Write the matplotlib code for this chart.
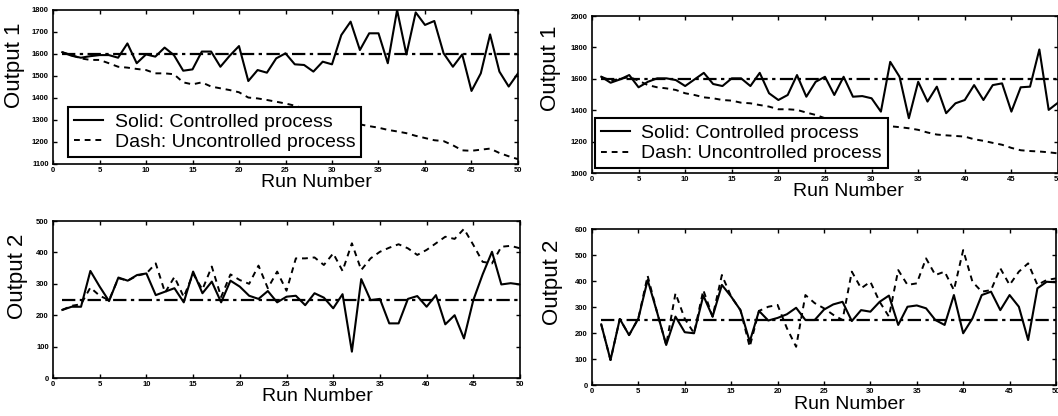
import matplotlib.pyplot as plt

plt.rcParams['font.family'] = ['Liberation Sans', 'DejaVu Sans']

# Data
runs = list(range(1, 51))

# left column, output 1
out1_ctrl_a = [1608, 1592, 1583, 1590, 1595, 1595, 1583, 1648, 1558, 1598,
               1588, 1629, 1595, 1524, 1530, 1611, 1611, 1542, 1592, 1636,
               1477, 1527, 1515, 1580, 1603, 1553, 1550, 1520, 1565, 1553,
               1686, 1747, 1618, 1694, 1694, 1558, 1800, 1598, 1789, 1732,
               1750, 1603, 1542, 1598, 1432, 1512, 1689, 1520, 1452, 1512]
out1_unc_a = [1608, 1595, 1580, 1573, 1573, 1558, 1542, 1538, 1532, 1527,
              1512, 1512, 1508, 1471, 1462, 1471, 1452, 1444, 1436, 1426,
              1402, 1398, 1391, 1383, 1375, 1365, 1352, 1340, 1328, 1315,
              1302, 1290, 1280, 1272, 1265, 1255, 1248, 1240, 1228, 1218,
              1208, 1204, 1185, 1162, 1160, 1165, 1170, 1150, 1135, 1122]
# right column, output 1
out1_ctrl_b = [1613, 1575, 1596, 1624, 1546, 1581, 1603, 1603, 1592, 1554,
               1596, 1638, 1567, 1554, 1603, 1603, 1554, 1638, 1508, 1465,
               1497, 1624, 1486, 1581, 1613, 1497, 1613, 1486, 1490, 1476,
               1391, 1708, 1613, 1349, 1581, 1455, 1550, 1381, 1444, 1465,
               1560, 1465, 1560, 1571, 1391, 1546, 1550, 1787, 1402, 1448]
out1_unc_b = [1613, 1590, 1598, 1612, 1588, 1560, 1546, 1539, 1529, 1508,
              1497, 1482, 1476, 1465, 1461, 1448, 1444, 1433, 1423, 1406,
              1406, 1402, 1385, 1370, 1349, 1340, 1350, 1330, 1320, 1310,
              1305, 1298, 1292, 1285, 1275, 1258, 1245, 1240, 1236, 1232,
              1215, 1205, 1192, 1180, 1160, 1145, 1140, 1137, 1132, 1125]
# left column, output 2
out2_ctrl_a = [217, 227, 227, 341, 291, 245, 320, 310, 328, 333,
               264, 275, 286, 241, 339, 270, 307, 241, 310, 291,
               262, 252, 277, 241, 259, 262, 232, 270, 256, 222,
               267, 84, 315, 248, 252, 174, 174, 252, 261, 227,
               264, 171, 200, 126, 248, 330, 402, 298, 302, 298]
out2_unc_a = [217, 230, 235, 288, 262, 248, 318, 310, 326, 333,
              365, 272, 322, 258, 332, 282, 355, 258, 330, 312,
              300, 358, 286, 339, 278, 381, 381, 384, 360, 397,
              341, 429, 344, 381, 402, 415, 426, 413, 392, 408,
              429, 450, 443, 475, 424, 370, 365, 418, 421, 413]
# right column, output 2
out2_ctrl_b = [233, 96, 254, 192, 256, 404, 282, 154, 263, 203,
               199, 344, 263, 385, 340, 288, 167, 285, 248, 258,
               272, 297, 250, 250, 290, 310, 320, 246, 288, 282,
               320, 344, 231, 301, 306, 295, 250, 231, 346, 199,
               256, 346, 359, 288, 346, 301, 173, 372, 397, 395]
out2_unc_b = [233, 96, 254, 192, 256, 420, 282, 154, 353, 255,
              199, 365, 263, 423, 340, 288, 147, 285, 301, 308,
              219, 147, 346, 315, 295, 270, 250, 436, 372, 397,
              320, 263, 442, 385, 391, 487, 423, 436, 365, 519,
              397, 359, 365, 449, 385, 436, 468, 385, 404, 410]

setpoint_1 = 1600
setpoint_2 = 250

fig = plt.figure(figsize=(10.58, 4.16), dpi=100)

panels = [
    # axes rect, ctrl, unc, setpoint, ylim, yticks, ylabel, legend, label coords
    ([0.0501, 0.6058, 0.4395, 0.3702], out1_ctrl_a, out1_unc_a, setpoint_1,
     (1100, 1800), range(1100, 1801, 100), 'Output 1', (0.032, 0.045),
     (-0.082, 0.64), (0.566, -0.123)),
    ([0.5595, 0.5841, 0.4405, 0.3774], out1_ctrl_b, out1_unc_b, setpoint_1,
     (1000, 2000), range(1000, 2001, 200), 'Output 1', (0.006, 0.03),
     (-0.09, 0.67), (0.55, -0.12)),
    ([0.0501, 0.0913, 0.4414, 0.3774], out2_ctrl_a, out2_unc_a, setpoint_2,
     (0, 500), range(0, 501, 100), 'Output 2', None,
     (-0.075, 0.65), (0.566, -0.115)),
    ([0.5595, 0.0745, 0.4386, 0.3750], out2_ctrl_b, out2_unc_b, setpoint_2,
     (0, 600), range(0, 601, 100), 'Output 2', None,
     (-0.084, 0.66), (0.555, -0.125)),
]

for rect, ctrl, unc, sp, ylim, yticks, ylab, leg, ycoord, xcoord in panels:
    ax = fig.add_axes(rect)
    ax.plot(runs, ctrl, color='black', lw=1.5, ls='-',
            label='Solid: Controlled process')
    ax.plot(runs, unc, color='black', lw=1.4, ls=(0, (3, 2.5)),
            label='Dash: Uncontrolled process')
    ax.hlines(sp, runs[0], runs[-1], color='black', lw=1.6,
              linestyles=[(0, (6, 2, 1.5, 2))])
    ax.set_xlim(0, 50)
    ax.set_ylim(*ylim)
    ax.set_xticks(range(0, 51, 5))
    ax.set_yticks(list(yticks))
    ax.tick_params(direction='in', length=3, width=1, top=True, right=True,
                   labelsize=5.5)
    ax.tick_params(axis='x', pad=2)
    ax.tick_params(axis='y', pad=3)
    for lab in ax.get_xticklabels() + ax.get_yticklabels():
        lab.set_fontweight('bold')
    for s in ax.spines.values():
        s.set_linewidth(1.2)
    ax.set_ylabel(ylab, fontsize=16, va='center')
    ax.yaxis.set_label_coords(*ycoord)
    ax.set_xlabel('Run Number', fontsize=14, va='center')
    ax.xaxis.set_label_coords(*xcoord)
    if leg is not None:
        lg = ax.legend(loc='lower left', bbox_to_anchor=leg, borderaxespad=0,
                       fontsize=14, handlelength=1.5, handletextpad=0.6,
                       labelspacing=0.15, borderpad=0.3, fancybox=False,
                       framealpha=1, edgecolor='black')
        lg.get_frame().set_linewidth(1.5)

fig.savefig('out.png', dpi=100)
